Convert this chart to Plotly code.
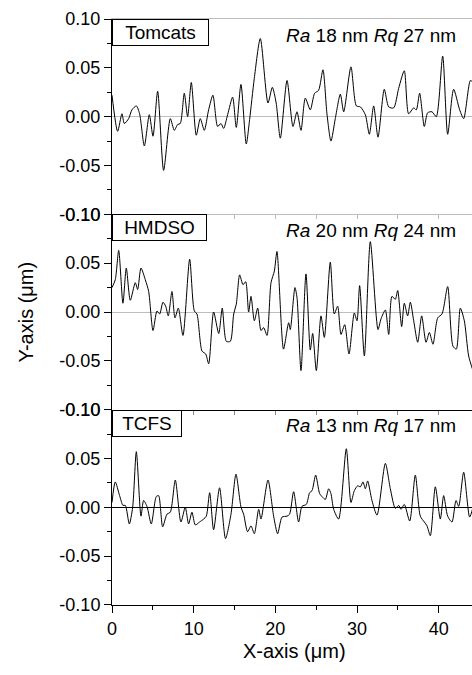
import plotly.graph_objects as go

# Surface height profiles (x in µm, height in µm), one per coating
tomcats_profile = [
    (0.00, 0.022), (0.69, -0.015), (1.22, 0.003), (1.51, -0.007), (2.04, -0.002),
    (2.44, 0.007), (2.98, 0.011), (3.38, 0.003), (3.96, -0.030), (4.57, 0.002),
    (5.02, -0.020), (5.59, 0.026), (6.32, -0.055), (7.14, -0.002), (7.63, -0.014),
    (8.04, -0.008), (8.36, -0.007), (8.85, 0.024), (9.26, 0.000), (9.71, 0.035),
    (10.32, -0.019), (10.81, -0.002), (11.30, -0.014), (11.83, 0.007), (12.36, 0.022),
    (12.93, -0.010), (13.34, -0.007), (13.67, -0.012), (14.16, 0.002), (14.77, 0.020),
    (15.22, -0.011), (15.79, 0.033), (16.44, -0.028), (16.85, -0.003), (17.42, 0.039),
    (18.16, 0.080), (19.10, 0.014), (19.63, 0.030), (20.10, 0.014), (20.61, -0.022),
    (21.43, 0.037), (22.16, -0.010), (22.65, 0.005), (23.14, -0.014), (23.67, 0.019),
    (24.28, 0.007), (24.81, 0.024), (25.30, 0.027), (25.83, 0.048), (26.32, 0.003),
    (26.81, -0.025), (27.34, -0.002), (27.96, 0.023), (28.37, 0.005), (29.26, 0.051),
    (29.92, 0.011), (30.41, 0.010), (31.02, 0.002), (31.51, -0.018), (32.04, 0.011),
    (32.57, -0.021), (33.34, 0.028), (33.88, 0.010), (34.49, 0.009), (35.10, 0.029),
    (35.79, 0.047), (36.32, 0.003), (36.94, 0.009), (37.26, 0.007), (37.67, 0.024),
    (38.24, -0.010), (38.65, 0.004), (39.18, 0.005), (39.71, 0.000), (40.49, 0.062),
    (41.10, -0.018), (41.83, 0.028), (42.57, 0.007), (43.06, -0.002), (43.88, 0.037),
    (44.20, 0.035),
]

hmdso_profile = [
    (0.00, 0.025), (0.40, 0.033), (0.82, 0.063), (1.34, 0.009), (1.75, 0.045),
    (2.24, 0.012), (2.85, 0.030), (3.14, 0.023), (3.55, 0.045), (4.08, 0.033),
    (4.49, 0.021), (5.02, -0.019), (5.51, 0.001), (5.84, -0.002), (6.24, 0.010),
    (6.57, 0.006), (6.89, -0.004), (7.34, 0.021), (7.71, -0.006), (8.12, 0.004),
    (8.69, -0.024), (9.51, 0.054), (10.08, 0.001), (10.40, -0.002), (11.02, -0.040),
    (11.47, -0.043), (11.84, -0.053), (12.44, 0.000), (13.07, -0.022), (13.50, 0.004),
    (14.00, -0.030), (14.49, -0.030), (14.90, -0.002), (15.22, 0.008), (15.63, 0.038),
    (16.04, 0.028), (16.37, 0.031), (16.73, 0.000), (17.02, 0.016), (17.43, -0.009),
    (17.84, 0.004), (18.24, -0.019), (18.57, -0.016), (18.98, -0.024), (19.47, 0.030),
    (19.88, 0.042), (20.20, 0.062), (21.00, -0.038), (21.63, -0.011), (21.83, -0.018),
    (22.40, 0.025), (22.65, 0.015), (23.14, -0.060), (23.75, 0.039), (24.28, -0.039),
    (24.57, -0.022), (25.02, -0.060), (25.59, -0.004), (26.00, -0.026), (26.73, 0.051),
    (27.22, -0.002), (27.63, 0.006), (28.04, -0.023), (28.49, -0.013), (29.02, -0.043),
    (29.67, -0.001), (30.00, -0.009), (30.32, 0.027), (30.90, -0.045), (31.63, 0.072),
    (32.57, -0.018), (32.94, -0.007), (33.47, 0.002), (33.88, -0.023), (34.28, 0.016),
    (34.69, 0.013), (34.98, 0.022), (35.47, -0.015), (35.79, 0.009), (36.20, -0.004),
    (36.53, 0.010), (36.94, -0.009), (37.43, -0.031), (37.92, -0.004), (38.45, -0.031),
    (38.86, -0.021), (39.30, -0.033), (39.88, -0.006), (40.41, -0.002), (41.10, 0.026),
    (41.75, -0.035), (42.16, -0.038), (42.65, 0.004), (43.14, -0.009), (43.67, -0.045),
    (44.20, -0.060),
]

tcfs_profile = [
    (0.00, 0.005), (0.40, 0.026), (0.93, 0.012), (1.34, 0.002), (1.63, 0.002),
    (2.12, -0.017), (2.53, 0.000), (2.98, 0.057), (3.55, -0.009), (3.87, 0.007),
    (4.28, 0.001), (4.81, -0.017), (5.42, 0.011), (5.71, 0.012), (6.20, -0.020),
    (6.73, -0.007), (7.14, -0.005), (7.75, 0.028), (8.44, -0.015), (8.97, 0.000),
    (9.38, -0.017), (9.79, -0.005), (10.20, -0.018), (10.73, -0.015), (11.22, -0.012),
    (11.55, -0.009), (11.96, 0.015), (12.44, -0.023), (13.17, 0.020), (13.90, -0.032),
    (14.57, -0.007), (15.18, 0.034), (15.80, 0.000), (16.12, -0.007), (16.60, -0.025),
    (17.02, -0.019), (17.43, -0.027), (17.96, -0.002), (18.24, -0.012), (19.10, 0.028),
    (19.79, -0.009), (20.28, -0.027), (20.82, -0.010), (21.43, -0.009), (21.75, -0.007),
    (22.24, 0.016), (22.85, -0.015), (23.26, 0.001), (23.79, 0.003), (24.20, 0.015),
    (24.49, 0.017), (24.94, 0.033), (25.43, 0.014), (25.83, 0.010), (26.12, 0.008),
    (26.53, 0.019), (26.81, 0.014), (27.14, -0.002), (27.75, -0.012), (28.69, 0.060),
    (29.26, 0.005), (29.67, 0.017), (30.08, 0.022), (30.41, 0.021), (30.73, 0.026),
    (31.02, 0.019), (31.30, 0.027), (31.83, 0.007), (32.45, -0.008), (33.47, 0.045),
    (34.08, 0.019), (34.69, -0.001), (35.10, 0.002), (35.39, -0.002), (35.79, 0.003),
    (36.45, -0.014), (37.14, 0.033), (37.75, -0.009), (38.24, -0.015), (38.57, -0.019),
    (38.98, -0.029), (39.59, 0.021), (40.20, -0.012), (40.61, 0.012), (41.10, -0.009),
    (41.63, -0.015), (42.12, 0.007), (42.45, 0.001), (43.06, 0.036), (43.79, -0.010),
    (44.20, 0.000),
]

samples = ["Tomcats", "HMDSO", "TCFS"]
ra_nm = [18, 20, 13]
rq_nm = [27, 24, 17]

y_tickvals = [-0.10, -0.05, 0.00, 0.05, 0.10]
y_ticktext = ["-0.10", "-0.05", "0.00", "0.05", "0.10"]
x_tickvals = [0, 10, 20, 30, 40]

FONT = "Liberation Sans, Arial, Helvetica, sans-serif"
GREY = "#bdbdbd"
X_MAX = 44.08

profiles = [tomcats_profile, hmdso_profile, tcfs_profile]
box_widths = [95, 93, 68]
zero_colors = [GREY, GREY, "black"]
domains = [[2 / 3, 1.0], [1 / 3, 2 / 3], [0.0, 1 / 3]]

fig = go.Figure()

for i, prof in enumerate(profiles):
    xs = [p[0] for p in prof]
    ys = [p[1] for p in prof]
    suffix = "" if i == 0 else str(i + 1)
    fig.add_trace(go.Scatter(
        x=xs, y=ys, mode="lines",
        line=dict(color="black", width=1, shape="spline", smoothing=0.7),
        xaxis="x" + suffix, yaxis="y" + suffix, showlegend=False,
        hoverinfo="skip",
    ))

    fig.layout["yaxis" + suffix] = dict(
        domain=domains[i], range=[-0.1, 0.1],
        tickmode="array", tickvals=y_tickvals, ticktext=y_ticktext,
        ticks="outside", ticklen=7, tickwidth=1, tickcolor="black",
        minor=dict(tickmode="array", tickvals=[-0.075, -0.025, 0.025, 0.075],
                   ticks="outside", ticklen=4, tickwidth=1, tickcolor="black"),
        showline=True, linecolor="black", linewidth=1,
        showgrid=False, zeroline=True, zerolinecolor=zero_colors[i], zerolinewidth=1,
        tickfont=dict(family=FONT, size=18, color="black"),
        anchor="x" + suffix, fixedrange=True,
    )

    xa = dict(
        domain=[0, 1], range=[0, X_MAX], anchor="y" + suffix,
        showgrid=False, zeroline=False, fixedrange=True,
    )
    if i == 0:
        xa.update(showline=True, linecolor=GREY, linewidth=1, mirror=True,
                  ticks="outside", tickmode="linear", tick0=0, dtick=5,
                  ticklen=4, tickcolor=GREY, showticklabels=False)
    elif i == 1:
        xa.update(showline=True, linecolor="black", linewidth=1,
                  ticks="outside", tickmode="linear", tick0=0, dtick=5,
                  ticklen=4, tickcolor="#8a8a8a", showticklabels=False,
                  matches="x")
    else:
        xa.update(showline=True, linecolor="black", linewidth=1,
                  ticks="outside", tickmode="array", tickvals=x_tickvals,
                  ticklen=7, tickcolor="black",
                  minor=dict(tickmode="array", tickvals=[5, 15, 25, 35],
                             ticks="outside", ticklen=4, tickcolor="black"),
                  tickfont=dict(family=FONT, size=18, color="black"),
                  matches="x")
    fig.layout["xaxis" + suffix] = xa

    # sample name box in the panel's top-left corner
    fig.add_annotation(
        text=samples[i], xref="x" + suffix + " domain", yref="y" + suffix + " domain",
        x=0, y=1, xanchor="left", yanchor="top", showarrow=False,
        bordercolor="black", borderwidth=1, borderpad=0, bgcolor="white",
        width=box_widths[i], height=25, align="center",
        font=dict(family=FONT, size=19, color="black"),
    )
    # roughness values
    fig.add_annotation(
        text=f"<i>Ra</i> {ra_nm[i]} nm <i>Rq</i> {rq_nm[i]} nm",
        xref="paper", yref="y" + suffix + " domain",
        x=0.961, y=1, xanchor="right", yanchor="middle", yshift=-16,
        showarrow=False, font=dict(family=FONT, size=19, color="black"),
    )

# axis titles
fig.add_annotation(
    text="Y-axis (μm)", xref="paper", yref="paper", x=-0.24, y=0.5,
    xanchor="center", yanchor="middle", textangle=-90, showarrow=False,
    font=dict(family=FONT, size=20, color="black"),
)
fig.add_annotation(
    text="X-axis (μm)", xref="paper", yref="paper", x=0.508, y=-0.078,
    xanchor="center", yanchor="middle", showarrow=False,
    font=dict(family=FONT, size=20, color="black"),
)

fig.update_layout(
    width=472, height=675,
    margin=dict(l=112, r=0, t=19, b=70),
    paper_bgcolor="white", plot_bgcolor="white",
    showlegend=False,
)

fig.write_html("out.html")
